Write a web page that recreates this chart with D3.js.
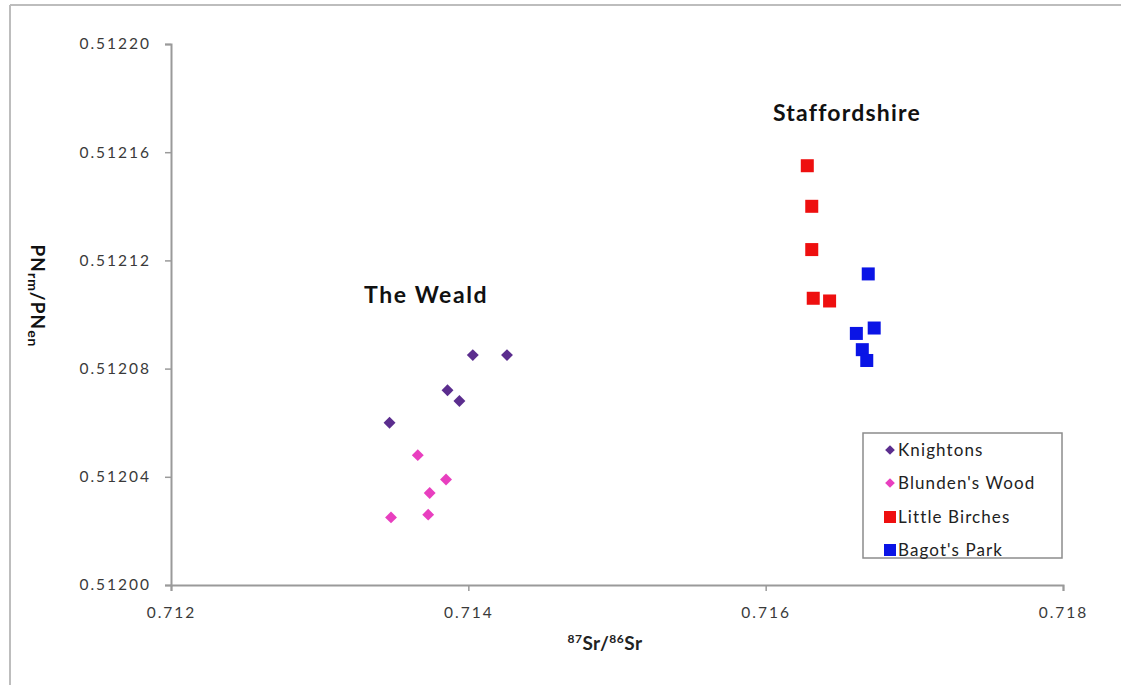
<!DOCTYPE html>
<html>
<head>
<meta charset="utf-8">
<script src="https://cdn.jsdelivr.net/npm/d3@7"></script>
<style>
  html, body { margin: 0; padding: 0; background: #fff; }
  svg { display: block; }
  text { font-family: Lato, "Open Sans", sans-serif; }
</style>
</head>
<body>
<svg id="chart" width="1121" height="685"></svg>
<script>
// Sr / Nd isotope ratios of samples from two regions
const seriesNames = ["Knightons", "Blunden's Wood", "Little Birches", "Bagot's Park"];
const knightonsSr = [0.71347, 0.71386, 0.71394, 0.71403, 0.71426];
const knightonsNd = [0.512060, 0.512072, 0.512068, 0.512085, 0.512085];
const blundensSr  = [0.71366, 0.71385, 0.71374, 0.71348, 0.71373];
const blundensNd  = [0.512048, 0.512039, 0.512034, 0.512025, 0.512026];
const birchesSr   = [0.71628, 0.71631, 0.71631, 0.71632, 0.71643];
const birchesNd   = [0.512155, 0.512140, 0.512124, 0.512106, 0.512105];
const bagotsSr    = [0.71669, 0.71673, 0.71661, 0.71665, 0.71668];
const bagotsNd    = [0.512115, 0.512095, 0.512093, 0.512087, 0.512083];
const xTicks = [0.712, 0.714, 0.716, 0.718];
const yTicks = [0.51200, 0.51204, 0.51208, 0.51212, 0.51216, 0.51220];

const series = [
  { name: seriesNames[0], sr: knightonsSr, nd: knightonsNd, shape: "diamond", color: "#5b2d8e" },
  { name: seriesNames[1], sr: blundensSr,  nd: blundensNd,  shape: "diamond", color: "#e83fbf" },
  { name: seriesNames[2], sr: birchesSr,   nd: birchesNd,   shape: "square",  color: "#ee0f0f" },
  { name: seriesNames[3], sr: bagotsSr,    nd: bagotsNd,    shape: "square",  color: "#0a14e6" }
];

const svg = d3.select("#chart");

// outer frame
svg.append("line").attr("x1", 10).attr("x2", 1121).attr("y1", 5).attr("y2", 5)
  .attr("stroke", "#bdbdbd").attr("stroke-width", 2);
svg.append("line").attr("x1", 10).attr("x2", 10).attr("y1", 5).attr("y2", 685)
  .attr("stroke", "#bdbdbd").attr("stroke-width", 2);

const plotLeft = 171, plotRight = 1063, plotTop = 44, plotBottom = 585;
const x = d3.scaleLinear().domain([0.712, 0.718]).range([plotLeft, plotRight]);
const y = d3.scaleLinear().domain([0.51200, 0.51220]).range([plotBottom, plotTop]);

const axisColor = "#9a9a9a";

// x axis
const gx = svg.append("g").attr("transform", `translate(0,${plotBottom})`)
  .call(d3.axisBottom(x).tickValues(xTicks).tickFormat(d3.format(".3f")).tickSize(6).tickPadding(16));
// y axis
const gy = svg.append("g").attr("transform", `translate(${plotLeft},0)`)
  .call(d3.axisLeft(y).tickValues(yTicks).tickFormat(d3.format(".5f")).tickSize(6).tickPadding(14));

[gx, gy].forEach(g => {
  g.select(".domain").attr("stroke", axisColor).attr("stroke-width", 2);
  g.selectAll(".tick line").attr("stroke", axisColor).attr("stroke-width", 1.5);
  g.selectAll(".tick text").attr("fill", "#3a3a3a").style("font-size", "15.5px")
    .style("letter-spacing", "2px")
    .style("font-family", "Lato, 'Open Sans', sans-serif");
});

// points
const diamond = d3.symbol().type(d3.symbolDiamond2).size(90);
series.forEach(s => {
  const pts = s.sr.map((v, i) => ({ x: v, y: s.nd[i] }));
  const g = svg.append("g");
  if (s.shape === "square") {
    g.selectAll("rect").data(pts).join("rect")
      .attr("x", d => x(d.x) - 6.5).attr("y", d => y(d.y) - 6.5)
      .attr("width", 13).attr("height", 13).attr("fill", s.color);
  } else {
    g.selectAll("path").data(pts).join("path")
      .attr("transform", d => `translate(${x(d.x)},${y(d.y)})`)
      .attr("d", diamond).attr("fill", s.color);
  }
});

// region labels
svg.append("text").attr("x", 364).attr("y", 303).text("The Weald")
  .style("font-size", "23px").style("font-weight", "bold").style("letter-spacing", "1.6px").attr("fill", "#111");
svg.append("text").attr("x", 773).attr("y", 121).text("Staffordshire")
  .style("font-size", "23px").style("font-weight", "bold").style("letter-spacing", "1.2px").attr("fill", "#111");

// axis titles
const xt = svg.append("text").attr("x", 605).attr("y", 650).attr("text-anchor", "middle")
  .attr("fill", "#222").style("font-size", "19px").style("font-weight", "bold").style("letter-spacing", "0.5px");
xt.append("tspan").text("87").style("font-size", "12px").attr("dy", -7);
xt.append("tspan").text("Sr/").attr("dy", 7);
xt.append("tspan").text("86").style("font-size", "12px").attr("dy", -7);
xt.append("tspan").text("Sr").attr("dy", 7);

const yt = svg.append("text").attr("transform", "translate(31,296) rotate(90)")
  .attr("text-anchor", "middle").attr("fill", "#111")
  .style("font-size", "19px").style("font-weight", "bold").style("letter-spacing", "1px");
yt.append("tspan").text("PN");
yt.append("tspan").text("rm").style("font-size", "14px").attr("dy", 3);
yt.append("tspan").text("/PN").attr("dy", -3);
yt.append("tspan").text("en").style("font-size", "14px").attr("dy", 3);

// legend
const lg = svg.append("g");
lg.append("rect").attr("x", 863).attr("y", 433).attr("width", 199).attr("height", 125)
  .attr("fill", "#fff").attr("stroke", "#8c8c8c").attr("stroke-width", 1.5);
const rowY = [450, 483, 517, 550];
series.forEach((s, i) => {
  const cy = rowY[i];
  if (s.shape === "square") {
    lg.append("rect").attr("x", 884).attr("y", cy - 6).attr("width", 12).attr("height", 12).attr("fill", s.color);
  } else {
    lg.append("path").attr("transform", `translate(890,${cy})`)
      .attr("d", d3.symbol().type(d3.symbolDiamond2).size(60)).attr("fill", s.color);
  }
  lg.append("text").attr("x", 898).attr("y", cy + 6).text(s.name)
    .attr("fill", "#222").style("font-size", "17px").style("letter-spacing", "1.1px");
});
</script>
</body>
</html>
